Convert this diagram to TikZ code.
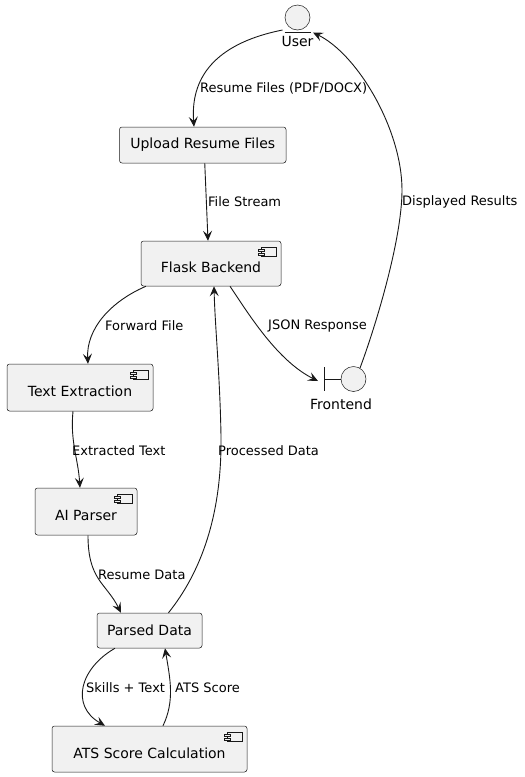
\documentclass[tikz,border=0pt]{standalone}
\usepackage{fontspec}
\setmainfont{DejaVu Sans}
\usetikzlibrary{arrows.meta}
\definecolor{boxfill}{HTML}{F1F1F1}
\definecolor{ink}{HTML}{181818}
\tikzset{
  box/.style={draw=ink, line width=0.5pt, fill=boxfill, rounded corners=2.5pt, inner sep=0pt, font=\fontsize{14}{16}\selectfont},
  comp/.style={box},
  ctext/.style={font=\fontsize{14}{16}\selectfont, inner sep=0pt},
  lbl/.style={font=\fontsize{13}{15}\selectfont, anchor=west, inner sep=0pt, text=black},
  conn/.style={draw=ink, line width=0.9pt, -{Stealth[length=10pt,width=9pt,inset=4pt]}},
  icon/.style={draw=ink, line width=0.5pt, fill=boxfill},
  actor/.style={circle, draw=ink, line width=0.5pt, fill=boxfill, minimum size=25pt, inner sep=0pt}
}
\newcommand\cicon[1]{%
  \draw[icon] ([xshift=-20pt,yshift=-6pt]#1.north east) rectangle ([xshift=-5pt,yshift=-15pt]#1.north east);
  \draw[icon] ([xshift=-23pt,yshift=-8pt]#1.north east) rectangle ([xshift=-17pt,yshift=-10pt]#1.north east);
  \draw[icon] ([xshift=-23pt,yshift=-12pt]#1.north east) rectangle ([xshift=-17pt,yshift=-14pt]#1.north east);
}
\begin{document}
\begin{tikzpicture}[x=1pt,y=-1pt]
\useasboundingbox (0,0) rectangle (525,777);
% User entity
\node[actor] (user) at (297.5,17.5) {};
\draw[draw=ink, line width=0.5pt] ([xshift=-13pt,yshift=-14.5pt]user.center) -- ([xshift=13pt,yshift=-14.5pt]user.center);
\node[ctext] (usert) at (297.5,41) {User};
% Frontend boundary
\node[actor] (front) at (353.5,379) {};
\draw[draw=ink, line width=0.5pt] ([xshift=-29.5pt,yshift=12pt]front.center) -- ([xshift=-29.5pt,yshift=-12pt]front.center);
\draw[draw=ink, line width=0.5pt] ([xshift=-29.5pt]front.center) -- (front.west);
\node[ctext] (frontt) at (341,404) {Frontend};
% Boxes
\node[box, minimum width=166.5pt, minimum height=36pt] (upload) at (202.75,145) {Upload Resume Files};
\node[comp, minimum width=140pt, minimum height=45pt, label={[ctext,yshift=-4pt]center:Flask Backend}] (flask) at (211,263.5) {};
\cicon{flask}
\node[comp, minimum width=146pt, minimum height=47pt, label={[ctext,yshift=-4pt]center:Text Extraction}] (textx) at (80,387.5) {};
\cicon{textx}
\node[comp, minimum width=102pt, minimum height=47pt, label={[ctext,yshift=-4pt]center:AI Parser}] (ai) at (86,511.5) {};
\cicon{ai}
\node[box, minimum width=105pt, minimum height=35pt] (parsed) at (149.5,630.5) {Parsed Data};
\node[comp, minimum width=195pt, minimum height=46pt, label={[ctext,yshift=-4pt]center:ATS Score Calculation}] (ats) at (149.5,749) {};
\cicon{ats}
% Connectors
\draw[conn] ([xshift=-15pt,yshift=-12.5pt]user.center) .. controls +(-60,12) and +(-4,-55) .. ([xshift=-8.75pt]upload.north);
\node[lbl] (l1) at (200,88) {Resume Files (PDF/DOCX)};
\draw[conn] ([xshift=2pt]upload.south) -- ([xshift=-3pt]flask.north);
\node[lbl] (l2) at (208,202) {File Stream};
\draw[conn] ([xshift=-65pt]flask.south) .. controls +(-35,15) and +(-2,-35) .. ([xshift=8pt]textx.north);
\node[lbl] (l3) at (105,326) {Forward File};
\draw[conn] ([xshift=19pt]flask.south) .. controls +(20,30) and +(-40,-20) .. ([xshift=-35.5pt,yshift=-2pt]front.center);
\node[lbl] (l4) at (268,326) {JSON Response};
\draw[conn] ([xshift=6.5pt,yshift=11pt]front.center) .. controls +(15,-40) and +(0,50) .. ([xshift=48.5pt,yshift=189pt]front.center) .. controls +(0,-60) and +(45,22) .. ([xshift=15.5pt,yshift=-15pt]user.center);
\node[lbl] (l5) at (402,202) {Displayed Results};
\draw[conn] ([xshift=-7pt]textx.south) .. controls +(-3,30) and +(-2,-30) .. ([xshift=-6pt]ai.north);
\node[lbl] (l6) at (72,451) {Extracted Text};
\draw[conn] ([xshift=2pt]ai.south) .. controls +(0,45) and +(-15,-30) .. ([xshift=-28.5pt]parsed.north);
\node[lbl] (l7) at (98,575) {Resume Data};
\draw[conn] ([xshift=19pt]parsed.north) .. controls +(32,-40) and +(1,80) .. ([xshift=10pt,yshift=-150pt]flask.south) .. controls +(-1,-60) and +(1,40) .. ([xshift=3pt]flask.south);
\node[lbl] (l8) at (218,451) {Processed Data};
\draw[conn] ([xshift=-34.5pt]parsed.south) .. controls +(-35,20) and +(-35,-20) .. ([xshift=-44.5pt]ats.north);
\node[lbl] (l9) at (86,688) {Skills + Text};
\draw[conn] ([xshift=13.5pt]ats.north) .. controls +(12,-25) and +(5,30) .. ([xshift=15.5pt]parsed.south);
\node[lbl] (l10) at (175,688) {ATS Score};
\end{tikzpicture}
\end{document}
